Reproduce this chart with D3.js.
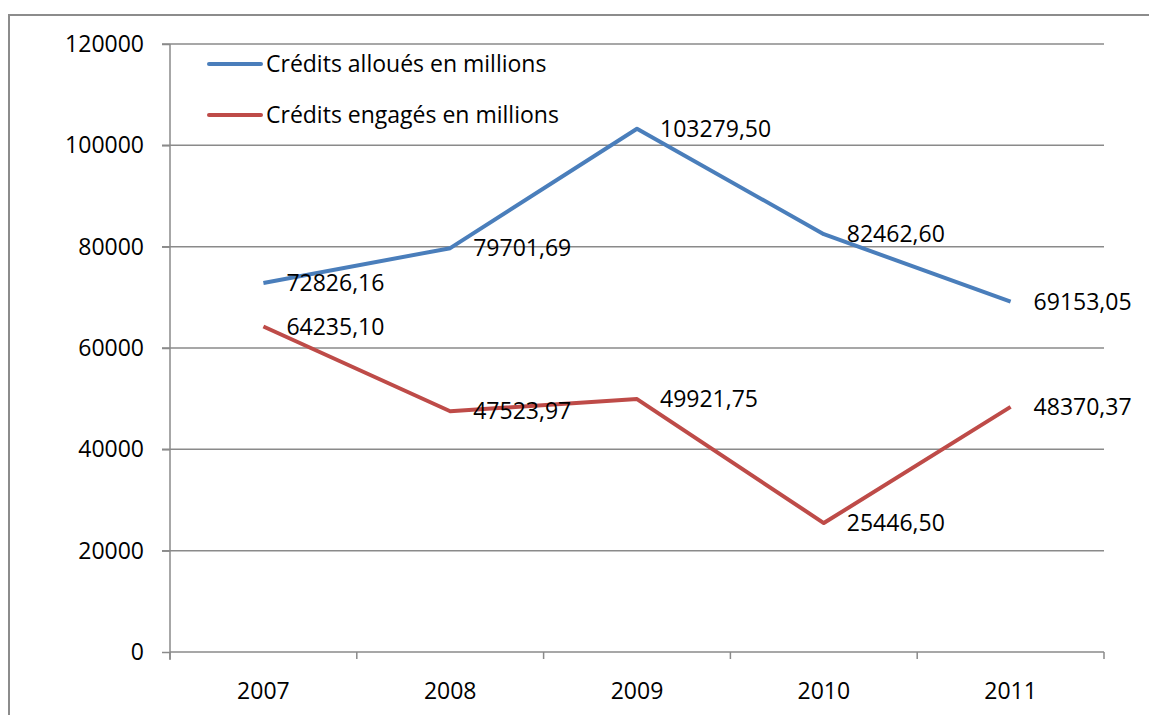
<!DOCTYPE html>
<html><head><meta charset="utf-8">
<script src="https://cdn.jsdelivr.net/npm/d3@7"></script>
<style>body{margin:0;background:#fff}svg{display:block}</style>
</head><body>
<script>
const years = ["2007","2008","2009","2010","2011"];
const alloues = [72826.16, 79701.69, 103279.50, 82462.60, 69153.05];
const engages = [64235.10, 47523.97, 49921.75, 25446.50, 48370.37];
const seriesNames = ["Crédits alloués en millions", "Crédits engagés en millions"];
const colors = ["#4A7EBB", "#BE4B48"];
const yTicks = [0, 20000, 40000, 60000, 80000, 100000, 120000];

const W = 1149, H = 715;
const font = "'Open Sans', 'Liberation Sans', sans-serif";
const fs = 23;
const svg = d3.select("body").append("svg").attr("width", W).attr("height", H);

// outer chart border
svg.append("rect").attr("x", 9).attr("y", 15).attr("width", W + 20).attr("height", H + 20)
  .attr("fill", "none").attr("stroke", "#8c8c8c").attr("stroke-width", 2);

const L = 170, R = 1104, T = 44, B = 652;
const x = d3.scaleBand().domain(years).range([L, R]);
const y = d3.scaleLinear().domain([0, 120000]).range([B, T]);
const fmt = v => v.toFixed(2).replace(".", ",");

// gridlines
svg.append("g").selectAll("line").data(yTicks.filter(d => d > 0)).join("line")
  .attr("x1", L - 8).attr("x2", R).attr("y1", d => y(d)).attr("y2", d => y(d))
  .attr("stroke", "#8a8a8a").attr("stroke-width", 1.5);

// y axis
const ya = svg.append("g").attr("transform", `translate(${L},0)`)
  .call(d3.axisLeft(y).tickValues(yTicks).tickSize(8).tickPadding(18).tickFormat(d3.format("d")));
ya.select(".domain").attr("stroke", "#8a8a8a").attr("stroke-width", 1.5).attr("d", `M0,${T}V${B + 8}`);
ya.selectAll(".tick line").attr("stroke", "#8a8a8a").attr("stroke-width", 1.5);
ya.selectAll("text").attr("font-family", font).attr("font-size", fs).attr("fill", "#000");

// x axis
const xa = svg.append("g").attr("transform", `translate(0,${B})`)
  .call(d3.axisBottom(x).tickSize(0).tickPadding(31));
xa.select(".domain").attr("stroke", "#8a8a8a").attr("stroke-width", 1.5).attr("d", `M${L},0H${R}`);
xa.selectAll("text").attr("font-family", font).attr("font-size", fs).attr("fill", "#000");
svg.append("g").selectAll("line").data(years.map(d => x(d)).concat([R])).join("line")
  .attr("x1", d => d).attr("x2", d => d).attr("y1", B).attr("y2", B + 7)
  .attr("stroke", "#8a8a8a").attr("stroke-width", 1.5);

const series = [alloues, engages];
const line = d3.line().x((d, i) => x(years[i]) + x.bandwidth() / 2).y(d => y(d));
series.forEach((s, k) => {
  svg.append("path").attr("d", line(s)).attr("fill", "none")
    .attr("stroke", colors[k]).attr("stroke-width", 4).attr("stroke-linejoin", "round");
  svg.append("g").selectAll("text").data(s).join("text")
    .attr("x", (d, i) => x(years[i]) + x.bandwidth() / 2 + 23)
    .attr("y", d => y(d)).attr("dy", "0.35em")
    .attr("font-family", font).attr("font-size", fs).attr("fill", "#000")
    .text(d => fmt(d));
});

// legend
const lg = svg.append("g");
seriesNames.forEach((n, k) => {
  const ly = 64 + k * 51;
  lg.append("line").attr("x1", 209).attr("x2", 261).attr("y1", ly).attr("y2", ly)
    .attr("stroke", colors[k]).attr("stroke-width", 4).attr("stroke-linecap", "round");
  lg.append("text").attr("x", 266).attr("y", ly).attr("dy", "0.35em")
    .attr("font-family", font).attr("font-size", fs).attr("fill", "#000").text(n);
});
</script>
</body></html>
